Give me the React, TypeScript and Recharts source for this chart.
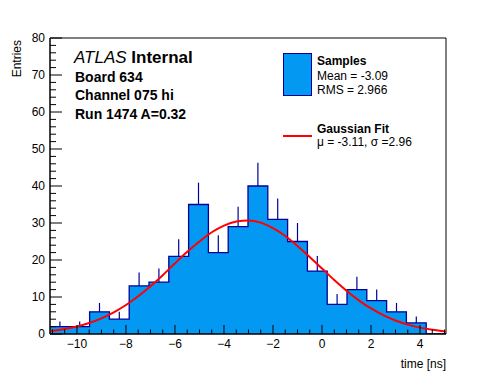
import React from "react";
import {
  ComposedChart,
  Area,
  Line,
  Scatter,
  ErrorBar,
  XAxis,
  YAxis,
  ReferenceArea,
} from "recharts";

// histogram: 20 bins starting at X_MIN
const X_MIN = -11.1;
const X_MAX = 5.06;
const BIN_WIDTH = 0.808;
const counts = [2, 2, 6, 4, 13, 14, 21, 35, 22, 29, 40, 31, 25, 17, 8, 12, 9, 6, 3, 0];
const errors = [1.4, 1.4, 2.4, 2, 3.6, 3.7, 4.6, 5.9, 4.7, 5.4, 6.3, 5.6, 5, 4.1, 2.8, 3.5, 3, 2.4, 1.7, 0];

// gaussian fit curve
const fitX = [-11.1, -10.5, -10, -9.5, -9, -8.5, -8, -7.5, -7, -6.5, -6, -5.5, -5, -4.5, -4, -3.5, -3, -2.5, -2, -1.5, -1, -0.5, 0, 0.5, 1, 1.5, 2, 2.5, 3, 3.5, 4, 4.5, 5.06];
const fitY = [0.8, 1.36, 2.04, 2.98, 4.24, 5.85, 7.84, 10.2, 12.9, 15.9, 19.1, 22.2, 25, 27.5, 29.3, 30.4, 30.7, 30.1, 28.6, 26.5, 23.8, 20.8, 17.7, 14.6, 11.7, 9.1, 6.9, 5.1, 3.65, 2.54, 1.72, 1.13, 0.68];

const xMajor = [-10, -8, -6, -4, -2, 0, 2, 4];
const xMinor = [-11, -10.5, -9.5, -9, -8.5, -7.5, -7, -6.5, -5.5, -5, -4.5, -3.5, -3, -2.5, -1.5, -1, -0.5, 0.5, 1, 1.5, 2.5, 3, 3.5, 4.5, 5];
const yMajor = [0, 10, 20, 30, 40, 50, 60, 70, 80];

const yTicks: number[] = [];
for (let v = 0; v <= 80; v += 2) yTicks.push(v);

const FILL = "#0399f3";
const EDGE = "#000099";
const FONT = "'Liberation Sans', Arial, Helvetica, sans-serif";

const histRows = counts.map((n, i) => ({ x: X_MIN + i * BIN_WIDTH, n }));
histRows.push({ x: X_MAX, n: counts[counts.length - 1] });
const fitRows = fitX.map((x, i) => ({ x, g: fitY[i] }));
const rows = [...histRows, ...fitRows].sort((a, b) => a.x - b.x);

const errRows = counts
  .map((n, i) => ({ x: X_MIN + (i + 0.5) * BIN_WIDTH, y: n, err: [0, errors[i]] }))
  .filter((d) => d.y > 0);

const fmt = (v: number) => (v < 0 ? "\u2212" + Math.abs(v) : String(v));

// plot frame edges, used by the tick renderers
const PLOT_LEFT = 50;
const PLOT_BOTTOM = 334;

function XTick(props: any) {
  const { x, payload } = props;
  const y = PLOT_BOTTOM;
  const major = xMajor.includes(payload.value);
  return (
    <g>
      <line x1={x} x2={x} y1={y} y2={y - (major ? 9 : 4.5)} stroke="#000" />
      {major && (
        <text x={x} y={y + 14.3} textAnchor="middle" fontSize={12} fontFamily={FONT} fill="#000">
          {fmt(payload.value)}
        </text>
      )}
    </g>
  );
}

function YTick(props: any) {
  const { y, payload } = props;
  const x = PLOT_LEFT;
  const major = yMajor.includes(payload.value);
  return (
    <g>
      <line x1={x} x2={x + (major ? 12 : 6)} y1={y} y2={y} stroke="#000" />
      {major && (
        <text x={x - 5} y={y + 4.3} textAnchor="end" fontSize={12} fontFamily={FONT} fill="#000">
          {payload.value}
        </text>
      )}
    </g>
  );
}

const txt = (
  top: number,
  left: number,
  size: number,
  bold: boolean,
  content: React.ReactNode
) => (
  <div
    style={{
      position: "absolute",
      top,
      left,
      fontSize: size,
      lineHeight: `${size}px`,
      fontWeight: bold ? "bold" : "normal",
      whiteSpace: "nowrap",
    }}
  >
    {content}
  </div>
);

export default function App() {
  return (
    <div
      style={{
        position: "absolute",
        left: 0,
        top: 0,
        width: 496,
        height: 372,
        background: "#fff",
        fontFamily: FONT,
        color: "#000",
      }}
    >
      <ComposedChart
        width={496}
        height={372}
        data={rows}
        margin={{ top: 38, right: 50, bottom: 28, left: 40 }}
      >
        <XAxis
          dataKey="x"
          type="number"
          domain={[X_MIN, X_MAX]}
          allowDataOverflow
          ticks={[...xMajor, ...xMinor].sort((a, b) => a - b)}
          interval={0}
          tick={XTick}
          tickLine={false}
          height={10}
          axisLine={{ stroke: "#000" }}
        />
        <YAxis
          type="number"
          domain={[0, 80]}
          allowDataOverflow
          ticks={yTicks}
          interval={0}
          tick={YTick}
          tickLine={false}
          width={10}
          axisLine={{ stroke: "#000" }}
        />
        <Area
          dataKey="n"
          type="stepAfter"
          connectNulls
          fill={FILL}
          fillOpacity={1}
          stroke={EDGE}
          strokeWidth={1.3}
          baseValue={0}
          isAnimationActive={false}
        />
        <Scatter data={errRows} dataKey="y" shape={() => <g />} isAnimationActive={false}>
          <ErrorBar dataKey="err" direction="y" width={0} stroke={EDGE} strokeWidth={1.2} />
        </Scatter>
        <Line
          dataKey="g"
          type="monotone"
          connectNulls
          stroke="#ff0000"
          strokeWidth={2}
          dot={false}
          isAnimationActive={false}
        />
        <ReferenceArea
          x1={X_MIN}
          x2={X_MAX}
          y1={0}
          y2={80}
          fill="none"
          stroke="#000"
          strokeWidth={1}
          ifOverflow="visible"
        />
      </ComposedChart>

      {txt(48.7, 74, 17, false, (
        <span>
          <i>ATLAS</i> <b>Internal</b>
        </span>
      ))}
      {txt(70.1, 75, 14, true, "Board 634")}
      {txt(88.4, 75, 14, true, "Channel 075 hi")}
      {txt(107.4, 75, 14, true, "Run 1474 A=0.32")}

      <div
        style={{
          position: "absolute",
          left: 283,
          top: 53,
          width: 27,
          height: 41,
          background: FILL,
          border: `1px solid ${EDGE}`,
        }}
      />
      {txt(55, 317, 12, true, "Samples")}
      {txt(70.3, 317, 12, false, "Mean = -3.09")}
      {txt(84.3, 317, 12, false, "RMS = 2.966")}
      <div
        style={{
          position: "absolute",
          left: 283,
          top: 135,
          width: 29,
          height: 2,
          background: "#ff0000",
        }}
      />
      {txt(123.4, 317, 12, true, "Gaussian Fit")}
      {txt(136.4, 317, 12, false, "\u03bc = -3.11, \u03c3 =2.96")}

      <div
        style={{
          position: "absolute",
          right: 50,
          top: 357.6,
          fontSize: 12,
          lineHeight: "12px",
          whiteSpace: "nowrap",
        }}
      >
        time [ns]
      </div>
      <div
        style={{
          position: "absolute",
          left: 11,
          top: 40,
          fontSize: 12,
          lineHeight: "12px",
          writingMode: "vertical-rl",
          transform: "rotate(180deg)",
          whiteSpace: "nowrap",
        }}
      >
        Entries
      </div>
    </div>
  );
}
